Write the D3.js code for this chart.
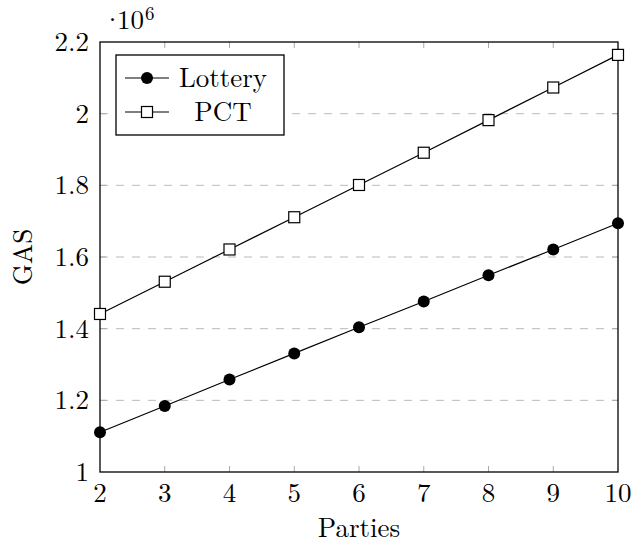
<!DOCTYPE html>
<html lang="en">

<head>
  <meta charset="UTF-8">
  <title>GAS vs Parties</title>
  <script src="https://d3js.org/d3.v7.min.js"></script>
  <style>
    body { margin: 0; background: #fff; }
    svg text { font-family: "Latin Modern Roman", "Liberation Serif", "DejaVu Serif", serif; fill: #000; }
  </style>
</head>

<body>
  <div id="chart"></div>
  <script>
    // data (values in units of 10^6)
    const parties = [2, 3, 4, 5, 6, 7, 8, 9, 10];
    const lottery = [1.111, 1.184, 1.258, 1.331, 1.404, 1.476, 1.549, 1.621, 1.694];
    const pct = [1.441, 1.531, 1.621, 1.711, 1.801, 1.891, 1.982, 2.073, 2.164];
    const yTicks = [1, 1.2, 1.4, 1.6, 1.8, 2, 2.2];
    const seriesNames = ["Lottery", "PCT"];

    const width = 633, height = 544;
    const margin = { top: 42, right: 15, bottom: 72, left: 100 };
    const fs = 27;

    const svg = d3.select("#chart").append("svg")
      .attr("width", width)
      .attr("height", height);

    const x = d3.scaleLinear().domain([2, 10]).range([margin.left, width - margin.right]);
    const y = d3.scaleLinear().domain([1, 2.2]).range([height - margin.bottom, margin.top]);

    // grid
    svg.append("g").selectAll("line")
      .data(yTicks.slice(1, -1))
      .join("line")
      .attr("x1", x(2)).attr("x2", x(10))
      .attr("y1", d => y(d)).attr("y2", d => y(d))
      .attr("stroke", "#bbb")
      .attr("stroke-width", 1)
      .attr("stroke-dasharray", "8,8");

    // inward ticks on all four sides
    const tickLen = 6;
    const tk = svg.append("g").attr("stroke", "#aaa").attr("stroke-width", 1);
    parties.slice(1, -1).forEach(p => {
      tk.append("line").attr("x1", x(p)).attr("x2", x(p)).attr("y1", y(1)).attr("y2", y(1) - tickLen);
      tk.append("line").attr("x1", x(p)).attr("x2", x(p)).attr("y1", y(2.2)).attr("y2", y(2.2) + tickLen);
    });
    yTicks.slice(1, -1).forEach(v => {
      tk.append("line").attr("x1", x(2)).attr("x2", x(2) + tickLen).attr("y1", y(v)).attr("y2", y(v));
      tk.append("line").attr("x1", x(10)).attr("x2", x(10) - tickLen).attr("y1", y(v)).attr("y2", y(v));
    });

    // frame
    svg.append("rect")
      .attr("x", x(2)).attr("y", y(2.2))
      .attr("width", x(10) - x(2)).attr("height", y(1) - y(2.2))
      .attr("fill", "none").attr("stroke", "#000").attr("stroke-width", 1.3);

    // tick labels
    svg.append("g").selectAll("text")
      .data(parties)
      .join("text")
      .attr("x", d => x(d))
      .attr("y", y(1) + 30)
      .attr("text-anchor", "middle")
      .attr("font-size", fs)
      .text(d => d);

    svg.append("g").selectAll("text")
      .data(yTicks)
      .join("text")
      .attr("x", x(2) - 11)
      .attr("y", d => y(d))
      .attr("dy", "0.33em")
      .attr("text-anchor", "end")
      .attr("font-size", fs)
      .text(d => d);

    // scale factor
    const sf = svg.append("text").attr("x", 102).attr("y", 29).attr("font-size", 27);
    sf.append("tspan").text("\u00b7");
    sf.append("tspan").attr("dx", -6).text("10");
    sf.append("tspan").attr("font-size", 19).attr("dx", 1).attr("dy", -9).text("6");

    // axis titles
    svg.append("text")
      .attr("x", (x(2) + x(10)) / 2)
      .attr("y", 537)
      .attr("text-anchor", "middle")
      .attr("font-size", fs)
      .text("Parties");

    svg.append("text")
      .attr("transform", `translate(32, ${y(1.6)}) rotate(-90)`)
      .attr("text-anchor", "middle")
      .attr("font-size", fs)
      .text("GAS");

    // lines
    const line = d3.line().x((d, i) => x(parties[i])).y(d => y(d));
    [lottery, pct].forEach(s => {
      svg.append("path")
        .attr("d", line(s))
        .attr("fill", "none")
        .attr("stroke", "#000")
        .attr("stroke-width", 1.2);
    });

    // markers
    svg.append("g").selectAll("circle")
      .data(lottery)
      .join("circle")
      .attr("cx", (d, i) => x(parties[i]))
      .attr("cy", d => y(d))
      .attr("r", 6)
      .attr("fill", "#000");

    const sq = 11;
    svg.append("g").selectAll("rect")
      .data(pct)
      .join("rect")
      .attr("x", (d, i) => x(parties[i]) - sq / 2)
      .attr("y", d => y(d) - sq / 2)
      .attr("width", sq).attr("height", sq)
      .attr("fill", "#fff")
      .attr("stroke", "#000")
      .attr("stroke-width", 1.2);

    // legend
    const lg = svg.append("g");
    lg.append("rect")
      .attr("x", 116).attr("y", 55)
      .attr("width", 168).attr("height", 80)
      .attr("fill", "#fff").attr("stroke", "#000").attr("stroke-width", 1.3);
    const rows = [78, 112];
    seriesNames.forEach((name, i) => {
      const ry = rows[i];
      lg.append("line")
        .attr("x1", 125).attr("x2", 169)
        .attr("y1", ry).attr("y2", ry)
        .attr("stroke", "#000").attr("stroke-width", 1.2);
      if (i === 0) {
        lg.append("circle").attr("cx", 147).attr("cy", ry).attr("r", 6).attr("fill", "#000");
      } else {
        lg.append("rect")
          .attr("x", 147 - sq / 2).attr("y", ry - sq / 2)
          .attr("width", sq).attr("height", sq)
          .attr("fill", "#fff").attr("stroke", "#000").attr("stroke-width", 1.2);
      }
      lg.append("text")
        .attr("x", 223).attr("y", ry)
        .attr("dy", "0.33em")
        .attr("text-anchor", "middle")
        .attr("font-size", fs)
        .text(name);
    });
  </script>
</body>

</html>
